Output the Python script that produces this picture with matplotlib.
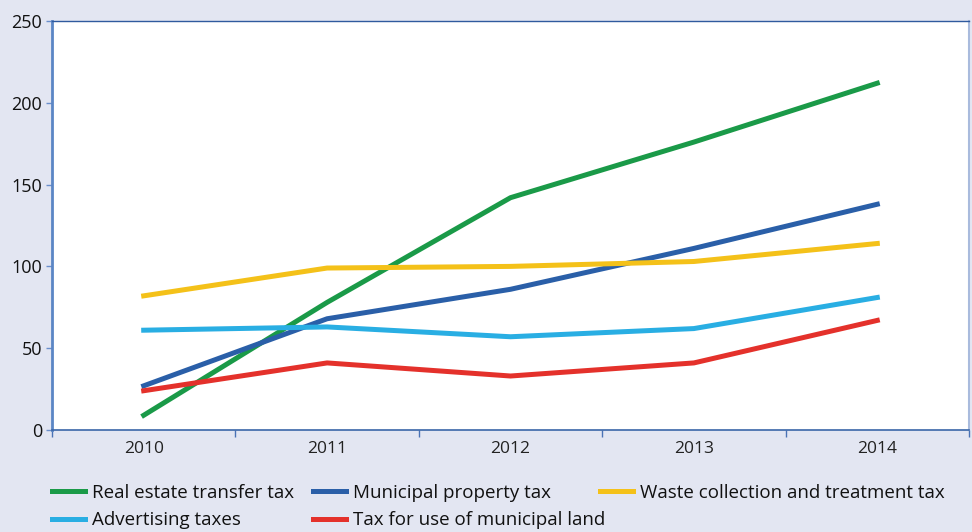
import numpy as np
import matplotlib.pyplot as plt

years = ['2010', '2011', '2012', '2013', '2014']
real_estate = [9, 78, 142, 176, 212]
municipal_property = [27, 68, 86, 111, 138]
waste = [82, 99, 100, 103, 114]
advertising = [61, 63, 57, 62, 81]
municipal_land = [24, 41, 33, 41, 67]

plt.rcParams['font.family'] = ['Open Sans', 'DejaVu Sans']

bg = '#e3e6f2'
fig = plt.figure(figsize=(9.72, 5.32), dpi=100, facecolor=bg)
ax = fig.add_axes([52 / 972, 1 - 430 / 532, 917 / 972, 409 / 532])
ax.set_facecolor('white')

x = np.arange(len(years))
lw = 3.6
l1, = ax.plot(x, real_estate, color='#1a9a48', lw=lw, label='Real estate transfer tax')
l2, = ax.plot(x, municipal_property, color='#2a5fa8', lw=lw, label='Municipal property tax')
l3, = ax.plot(x, waste, color='#f4c119', lw=lw, label='Waste collection and treatment tax')
l4, = ax.plot(x, advertising, color='#29aee3', lw=lw, label='Advertising taxes')
l5, = ax.plot(x, municipal_land, color='#e4312b', lw=lw, label='Tax for use of municipal land')

ax.set_xlim(-0.5, len(years) - 0.5)
ax.set_ylim(0, 250)
ax.set_yticks([0, 50, 100, 150, 200, 250])
ax.set_xticks(x)
ax.set_xticklabels(years, fontsize=12.5, color='#222222')
ax.set_xticks(np.arange(-0.5, len(years)), minor=True)
ax.tick_params(axis='x', which='major', length=0, pad=8)
ax.tick_params(axis='x', which='minor', length=5, width=1, color='#4a72b5', direction='out')
ax.tick_params(axis='y', length=4, width=1, color='#6a8fcc', labelsize=13, labelcolor='#111111', pad=3)

ax.spines['top'].set_color('#2f5a9e')
ax.spines['top'].set_linewidth(1)
ax.spines['bottom'].set_color('#3a66a8')
ax.spines['bottom'].set_linewidth(1.2)
ax.spines['left'].set_color('#5b86c5')
ax.spines['left'].set_linewidth(2)
ax.spines['right'].set_color('#a9bbdd')
ax.spines['right'].set_linewidth(1.5)

# legend: one column at a time so the columns sit where the reference has them
columns = [([l1, l4], 52), ([l2, l5], 313), ([l3], 600)]
for hs, xpos in columns:
    leg = fig.legend(handles=hs, labels=[h.get_label() for h in hs], ncol=1,
                     loc='upper left', bbox_to_anchor=(xpos / 972, 1 - 484 / 532),
                     frameon=False, fontsize=13.5, handlelength=1.75, handletextpad=0.4,
                     labelspacing=0.5, borderpad=0, borderaxespad=0)
    for t in leg.get_texts():
        t.set_color('#111111')

fig.savefig('out.png', dpi=100, facecolor=bg)
